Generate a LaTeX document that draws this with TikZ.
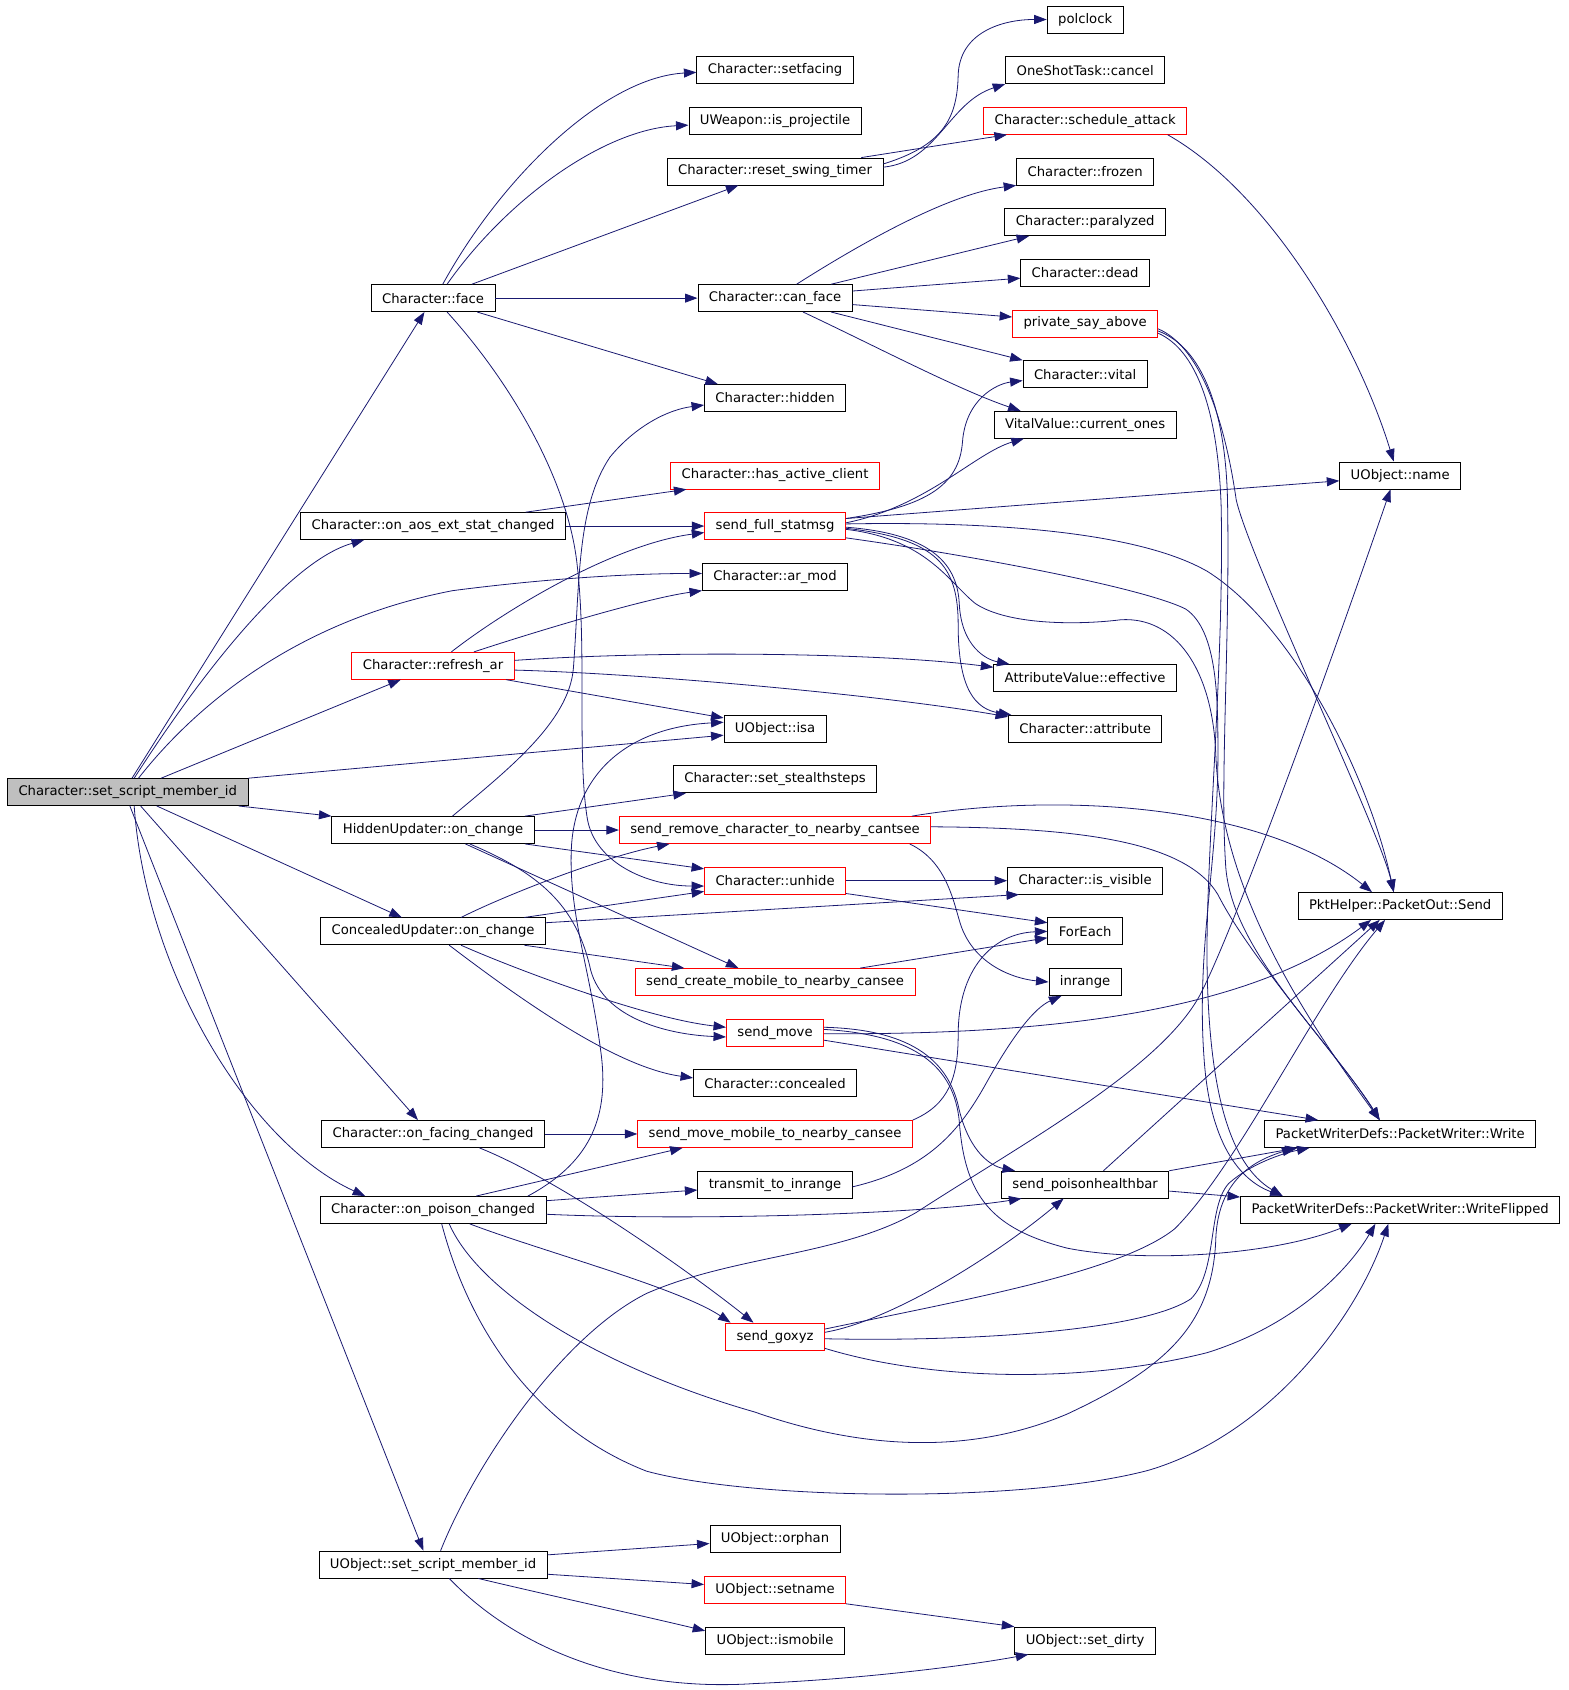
\documentclass[tikz,border=0pt]{standalone}
\usepackage{fontspec}
\setmainfont{DejaVu Sans}
\usetikzlibrary{arrows.meta,calc}

\definecolor{edgeblue}{RGB}{25,25,112}

\tikzset{
  fn/.style={draw=black, line width=0.8pt, inner xsep=11pt, inner ysep=0pt,
    minimum height=27pt, font=\fontsize{13.2}{16}\selectfont},
  fnred/.style={fn, draw=red},
  fnroot/.style={fn, fill=black!25},
  call/.style={draw=edgeblue, line width=0.8pt, -{Triangle[length=12.5pt,width=9pt]}},
}

\begin{document}
\begin{tikzpicture}[x=1.0777pt, y=-1.0777pt]
\useasboundingbox (0,0) rectangle (1455,1568);

% functions
\node[fn] (polclock) at (1006.8,18.1) {polclock};
\node[fn] (cancel) at (1006.8,65.1) {OneShotTask::cancel};
\node[fnred] (schedattack) at (1006.8,112.1) {Character::schedule\_attack};
\node[fn] (setfacing) at (719.1,65.1) {Character::setfacing};
\node[fn] (isproj) at (719.1,112.1) {UWeapon::is\_projectile};
\node[fn] (resetswing) at (719.1,159.1) {Character::reset\_swing\_timer};
\node[fn] (frozen) at (1006.8,159.1) {Character::frozen};
\node[fn] (paralyzed) at (1006.8,206.1) {Character::paralyzed};
\node[fn] (dead) at (1006.8,253.1) {Character::dead};
\node[fn] (face) at (401.8,276.6) {Character::face};
\node[fn] (canface) at (719.1,276.6) {Character::can\_face};
\node[fnred] (privsay) at (1006.8,300.1) {private\_say\_above};
\node[fn] (vital) at (1006.8,347.1) {Character::vital};
\node[fn] (hidden) at (719.1,369.3) {Character::hidden};
\node[fn] (curones) at (1006.8,394.1) {VitalValue::current\_ones};
\node[fnred] (hasclient) at (719.1,441.1) {Character::has\_active\_client};
\node[fn] (objname) at (1299.1,441.1) {UObject::name};
\node[fn] (aosext) at (401.8,488.1) {Character::on\_aos\_ext\_stat\_changed};
\node[fnred] (fullstat) at (719.1,488.1) {send\_full\_statmsg};
\node[fn] (armod) at (719.1,535.1) {Character::ar\_mod};
\node[fnred] (refreshar) at (401.8,617.7) {Character::refresh\_ar};
\node[fn] (effective) at (1006.8,629.1) {AttributeValue::effective};
\node[fn] (attribute) at (1006.8,676.1) {Character::attribute};
\node[fn] (isa) at (719.1,676.1) {UObject::isa};
\node[fnroot] (setscript) at (118.5,734.9) {Character::set\_script\_member\_id};
\node[fn] (stealth) at (719.1,723.1) {Character::set\_stealthsteps};
\node[fn] (hiddenupd) at (401.8,770.1) {HiddenUpdater::on\_change};
\node[fnred] (sendremove) at (719.1,770.1) {send\_remove\_character\_to\_nearby\_cantsee};
\node[fnred] (unhide) at (719.1,817.1) {Character::unhide};
\node[fn] (isvisible) at (1006.8,817.1) {Character::is\_visible};
\node[fn] (pktsend) at (1299.1,840.6) {PktHelper::PacketOut::Send};
\node[fn] (concealedupd) at (401.8,864.1) {ConcealedUpdater::on\_change};
\node[fn] (foreach) at (1006.8,864.1) {ForEach};
\node[fnred] (sendcreate) at (719.1,911.1) {send\_create\_mobile\_to\_nearby\_cansee};
\node[fn] (inrange) at (1006.8,911.1) {inrange};
\node[fnred] (sendmove) at (719.1,958.1) {send\_move};
\node[fn] (concealed) at (719.1,1005.1) {Character::concealed};
\node[fn] (facingchg) at (401.8,1052.1) {Character::on\_facing\_changed};
\node[fnred] (sendmovemob) at (719.1,1052.1) {send\_move\_mobile\_to\_nearby\_cansee};
\node[fn] (pwwrite) at (1299.1,1052.1) {PacketWriterDefs::PacketWriter::Write};
\node[fn] (transmit) at (719.1,1099.1) {transmit\_to\_inrange};
\node[fn] (poisonbar) at (1006.8,1099.1) {send\_poisonhealthbar};
\node[fn] (poisonchg) at (401.8,1122.6) {Character::on\_poison\_changed};
\node[fn] (pwflipped) at (1299.1,1122.6) {PacketWriterDefs::PacketWriter::WriteFlipped};
\node[fnred] (goxyz) at (719.1,1240.1) {send\_goxyz};
\node[fn] (objsetscript) at (401.8,1451.6) {UObject::set\_script\_member\_id};
\node[fn] (orphan) at (719.1,1428.1) {UObject::orphan};
\node[fnred] (setname) at (719.1,1475.1) {UObject::setname};
\node[fn] (ismobile) at (719.1,1522.1) {UObject::ismobile};
\node[fn] (setdirty) at (1006.8,1522.1) {UObject::set\_dirty};

% calls from Character::set_script_member_id
\draw[call] ($(setscript.north)+(4,0)$) -- ($(face.south)+(-8,0)$);
\draw[call] ($(setscript.north)+(6,0)$) .. controls (190,620) and (270,520) .. ($(aosext.south)+(-64,0)$);
\draw[call] ($(setscript.north)+(10,0)$) .. controls (185,650) and (280,575) .. (420,548) .. controls (520,535) and (600,532) .. ($(armod.west)+(0,-3)$);
\draw[call] ($(setscript.north)+(31,0)$) -- ($(refreshar.south)+(-30,0)$);
\draw[call] (setscript.north east) -- ($(isa.west)+(0,6)$);
\draw[call] ($(setscript.south east)+(-9,0)$) -- (hiddenupd.north west);
\draw[call] ($(setscript.south)+(27,0)$) -- ($(concealedupd.north)+(-29,0)$);
\draw[call] ($(setscript.south)+(12,0)$) -- ($(facingchg.north)+(-14,0)$);
\draw[call] ($(setscript.south)+(6,0)$) .. controls (135,900) and (230,1060) .. ($(poisonchg.north)+(-63,0)$);
\draw[call] ($(setscript.south)+(2,0)$) -- ($(objsetscript.north)+(-9,0)$);

% Character::face
\draw[call] ($(face.north)+(9,0)$) .. controls (465,165) and (560,72) .. ($(setfacing.west)+(0,2)$);
\draw[call] ($(face.north)+(13,0)$) .. controls (470,185) and (560,120) .. ($(isproj.west)+(0,4)$);
\draw[call] ($(face.north)+(36,0)$) -- ($(resetswing.south)+(-34,0)$);
\draw[call] (face.east) -- (canface.west);
\draw[call] ($(face.south east)+(-17,0)$) -- ($(hidden.north)+(-53,0)$);
\draw[call] ($(face.south)+(13,0)$) .. controls (470,350) and (525,440) .. (535,520) .. controls (545,600) and (535,700) .. (545,760) .. controls (552,800) and (600,822) .. ($(unhide.west)+(0,5)$);

% Character::reset_swing_timer
\draw[call] ($(resetswing.east)+(0,-7)$) .. controls (875,135) and (888,110) .. (889,70) .. controls (890,30) and (930,18) .. (polclock.west);
\draw[call] ($(resetswing.east)+(0,-4)$) .. controls (870,150) and (880,95) .. (cancel.south west);
\draw[call] ($(resetswing.north)+(80,0)$) -- ($(schedattack.south west)+(22,0)$);
\draw[call] ($(schedattack.south east)+(-18,0)$) .. controls (1180,180) and (1260,320) .. ($(objname.north)+(-6,0)$);

% Character::can_face
\draw[call] ($(canface.north)+(20,0)$) .. controls (800,225) and (880,180) .. (frozen.south west);
\draw[call] ($(canface.north)+(52,0)$) -- ($(paralyzed.south)+(-52,0)$);
\draw[call] ($(canface.east)+(0,-6.6)$) -- ($(dead.west)+(0,5)$);
\draw[call] ($(canface.east)+(0,6)$) -- ($(privsay.west)+(0,-6)$);
\draw[call] ($(canface.south east)+(-20,0)$) -- (vital.north west);
\draw[call] ($(canface.south)+(26,0)$) .. controls (810,320) and (890,362) .. ($(curones.north west)+(25,0)$);

% private_say_above
\draw[call] ($(privsay.east)+(0,5)$) .. controls (1110,320) and (1135,380) .. (1147,464) .. controls (1160,520) and (1280,770) .. ($(pktsend.north)+(-6,0)$);
\draw[call] ($(privsay.east)+(0,7)$) .. controls (1115,322) and (1138,380) .. (1139,470) .. controls (1141,600) and (1132,720) .. (1137,800) .. controls (1140,880) and (1230,960) .. ($(pwwrite.north)+(-19,0)$);
\draw[call] ($(privsay.east)+(0,9)$) .. controls (1110,325) and (1130,380) .. (1133,470) .. controls (1136,620) and (1118,800) .. (1120,900) .. controls (1122,1010) and (1140,1080) .. ($(pwflipped.north)+(-109,0)$);

% Character::on_aos_ext_stat_changed
\draw[call] ($(aosext.north)+(86,0)$) -- ($(hasclient.south west)+(15,0)$);
\draw[call] (aosext.east) -- (fullstat.west);

% send_full_statmsg
\draw[call] ($(fullstat.east)+(0,-7)$) .. controls (860,470) and (890,450) .. (893,410) .. controls (896,370) and (925,356) .. ($(vital.west)+(0,6)$);
\draw[call] ($(fullstat.east)+(0,-3)$) .. controls (860,470) and (905,420) .. ($(curones.south west)+(28,0)$);
\draw[call] ($(fullstat.east)+(0,-7)$) -- ($(objname.west)+(0,5)$);
\draw[call] ($(fullstat.east)+(0,1)$) .. controls (860,495) and (888,520) .. (890,560) .. controls (892,600) and (915,612) .. ($(effective.north west)+(15,0)$);
\draw[call] ($(fullstat.east)+(0,2)$) .. controls (870,500) and (889,525) .. (889,580) .. controls (889,640) and (905,658) .. ($(attribute.north west)+(3,0)$);
\draw[call] ($(fullstat.east)+(0,-2)$) .. controls (900,484) and (1050,490) .. (1120,530) .. controls (1200,580) and (1270,720) .. ($(pktsend.north)+(-6,0)$);
\draw[call] ($(fullstat.east)+(0,3)$) .. controls (860,500) and (880,540) .. (905,560) .. controls (935,580) and (1000,580) .. (1040,575) .. controls (1090,572) and (1125,620) .. (1128,700) .. controls (1133,820) and (1200,930) .. ($(pwwrite.north)+(-19,0)$);
\draw[call] ($(fullstat.south east)+(0,-2)$) .. controls (900,515) and (1060,545) .. (1100,565) .. controls (1130,585) and (1130,650) .. (1130,700) .. controls (1130,800) and (1110,880) .. (1117,980) .. controls (1122,1060) and (1150,1095) .. ($(pwflipped.north)+(-109,0)$);

% Character::refresh_ar
\draw[call] ($(refreshar.north)+(17,0)$) .. controls (470,565) and (570,505) .. ($(fullstat.west)+(0,6)$);
\draw[call] ($(refreshar.north)+(38,0)$) .. controls (500,585) and (600,555) .. (armod.south west);
\draw[call] ($(refreshar.east)+(0,-5)$) .. controls (620,603) and (820,606) .. ($(effective.west)+(0,-10)$);
\draw[call] ($(refreshar.east)+(0,4)$) .. controls (600,625) and (820,645) .. ($(attribute.west)+(0,-11)$);
\draw[call] ($(refreshar.south east)+(-8,0)$) -- ($(isa.west)+(0,-10)$);

% HiddenUpdater::on_change
\draw[call] ($(hiddenupd.north)+(18,0)$) .. controls (470,715) and (528,670) .. (532,620) .. controls (538,540) and (535,470) .. (566,424) .. controls (590,395) and (620,380) .. ($(hidden.west)+(0,6.5)$);
\draw[call] ($(hiddenupd.north east)+(-9,0)$) -- ($(stealth.south west)+(12,0)$);
\draw[call] (hiddenupd.east) -- (sendremove.west);
\draw[call] ($(hiddenupd.south east)+(-9,0)$) -- ($(unhide.west)+(0,-11)$);
\draw[call] ($(hiddenupd.south)+(30,0)$) -- ($(sendcreate.north)+(-34,0)$);
\draw[call] ($(hiddenupd.south)+(34,0)$) .. controls (500,810) and (535,840) .. (548,900) .. controls (560,945) and (620,960) .. ($(sendmove.west)+(0,4)$);

% ConcealedUpdater::on_change
\draw[call] ($(concealedupd.north)+(26,0)$) .. controls (470,830) and (560,795) .. ($(sendremove.south west)+(47,0)$);
\draw[call] ($(concealedupd.north east)+(-20,0)$) -- ($(unhide.west)+(0,10)$);
\draw[call] ($(concealedupd.east)+(0,-8)$) -- ($(isvisible.south west)+(11,0)$);
\draw[call] ($(concealedupd.south east)+(-20,0)$) -- ($(sendcreate.north west)+(46,0)$);
\draw[call] ($(concealedupd.south)+(26,0)$) .. controls (480,900) and (600,945) .. ($(sendmove.west)+(0,-5)$);
\draw[call] ($(concealedupd.south)+(15,0)$) .. controls (480,925) and (570,990) .. ($(concealed.west)+(0,-5)$);

% send_remove_character_to_nearby_cantsee
\draw[call] ($(sendremove.north)+(127,0)$) .. controls (980,735) and (1170,745) .. ($(pktsend.north west)+(69,0)$);
\draw[call] ($(sendremove.east)+(0,-3)$) .. controls (1000,768) and (1100,780) .. (1130,830) .. controls (1160,890) and (1250,990) .. ($(pwwrite.north)+(-19,0)$);
\draw[call] ($(sendremove.south east)+(-20,0)$) .. controls (880,800) and (885,840) .. (892,860) .. controls (905,895) and (940,908) .. (inrange.west);

% unhide, create, move_mobile, transmit
\draw[call] (unhide.east) -- (isvisible.west);
\draw[call] ($(unhide.south east)+(0,-1)$) -- ($(foreach.west)+(0,-8)$);
\draw[call] ($(sendcreate.north)+(79,0)$) -- ($(foreach.west)+(0,6)$);
\draw[call] (sendmovemob.north east) .. controls (880,1025) and (889,1000) .. (889,960) .. controls (889,900) and (920,866) .. (foreach.west);
\draw[call] ($(transmit.east)+(0,2)$) .. controls (860,1085) and (890,1050) .. (915,1005) .. controls (940,960) and (960,935) .. ($(inrange.south)+(-22,0)$);

% send_move
\draw[call] ($(sendmove.east)+(0,-5)$) .. controls (840,955) and (880,980) .. (890,1030) .. controls (900,1070) and (920,1082) .. ($(poisonbar.north west)+(13,0)$);
\draw[call] ($(sendmove.east)+(0,-3)$) .. controls (850,960) and (885,990) .. (890,1040) .. controls (895,1110) and (920,1140) .. (990,1158) .. controls (1060,1172) and (1180,1165) .. ($(pwflipped.south)+(-45,0)$);
\draw[call] ($(sendmove.east)+(0,1)$) .. controls (950,960) and (1150,945) .. ($(pktsend.south)+(-27,0)$);
\draw[call] ($(sendmove.east)+(0,7)$) -- ($(pwwrite.north west)+(50,0)$);

% Character::on_facing_changed
\draw[call] (facingchg.east) -- (sendmovemob.west);
\draw[call] ($(facingchg.south)+(43,0)$) .. controls (520,1095) and (640,1180) .. ($(goxyz.north)+(-20,0)$);

% Character::on_poison_changed
\draw[call] ($(poisonchg.north)+(88,0)$) .. controls (545,1080) and (565,1040) .. (558,980) .. controls (548,900) and (528,850) .. (530,790) .. controls (532,720) and (580,675) .. ($(isa.west)+(0,-6)$);
\draw[call] ($(poisonchg.north)+(40,0)$) -- ($(sendmovemob.south west)+(42,0)$);
\draw[call] ($(poisonchg.east)+(0,-8.6)$) -- ($(transmit.west)+(0,5)$);
\draw[call] ($(poisonchg.east)+(0,4)$) .. controls (650,1133) and (860,1126) .. ($(poisonbar.south west)+(19,0)$);
\draw[call] ($(poisonchg.south)+(34,0)$) .. controls (500,1160) and (630,1195) .. ($(goxyz.north west)+(5,0)$);
\draw[call] ($(poisonchg.south)+(15,0)$) .. controls (445,1200) and (560,1270) .. (700,1310) .. controls (800,1345) and (900,1350) .. (990,1312) .. controls (1080,1270) and (1125,1230) .. (1128,1150) .. controls (1130,1090) and (1170,1075) .. ($(pwwrite.south west)+(28,0)$);
\draw[call] ($(poisonchg.south)+(8,0)$) .. controls (440,1250) and (510,1330) .. (600,1365) .. controls (700,1392) and (950,1395) .. (1066,1364) .. controls (1180,1330) and (1260,1220) .. ($(pwflipped.south)+(-11,0)$);

% send_poisonhealthbar
\draw[call] ($(poisonbar.north)+(17,0)$) -- ($(pktsend.south)+(-19,0)$);
\draw[call] (poisonbar.north east) -- ($(pwwrite.south west)+(31,0)$);
\draw[call] ($(poisonbar.east)+(0,6)$) -- ($(pwflipped.west)+(0,-12)$);

% send_goxyz
\draw[call] ($(goxyz.east)+(0,-4)$) .. controls (830,1225) and (930,1160) .. ($(poisonbar.south)+(-20,0)$);
\draw[call] ($(goxyz.east)+(0,-7)$) .. controls (900,1205) and (1040,1180) .. (1090,1140) .. controls (1150,1080) and (1220,930) .. ($(pktsend.south)+(-14,0)$);
\draw[call] ($(goxyz.east)+(0,2)$) .. controls (900,1245) and (1060,1235) .. (1105,1205) .. controls (1130,1180) and (1120,1120) .. (1140,1098) .. controls (1160,1080) and (1190,1070) .. ($(pwwrite.south west)+(42,0)$);
\draw[call] ($(goxyz.south east)+(0,-2)$) .. controls (860,1280) and (1000,1285) .. (1120,1255) .. controls (1200,1230) and (1250,1180) .. ($(pwflipped.south)+(-23,0)$);

% UObject::set_script_member_id
\draw[call] ($(objsetscript.north)+(7,0)$) .. controls (440,1360) and (520,1240) .. (600,1200) .. controls (680,1165) and (780,1165) .. (850,1125) .. controls (950,1060) and (1080,990) .. (1115,920) .. controls (1150,850) and (1240,600) .. ($(objname.south)+(-9,0)$);
\draw[call] ($(objsetscript.east)+(0,-9)$) -- ($(orphan.west)+(0,4)$);
\draw[call] ($(objsetscript.east)+(0,9)$) -- ($(setname.west)+(0,-5)$);
\draw[call] ($(objsetscript.south)+(42,0)$) .. controls (500,1478) and (600,1500) .. ($(ismobile.west)+(0,-9)$);
\draw[call] ($(objsetscript.south)+(15,0)$) .. controls (480,1530) and (580,1570) .. (700,1562) .. controls (800,1558) and (900,1545) .. ($(setdirty.south west)+(13,0)$);
\draw[call] (setname.south east) -- (setdirty.north west);

\end{tikzpicture}
\end{document}
